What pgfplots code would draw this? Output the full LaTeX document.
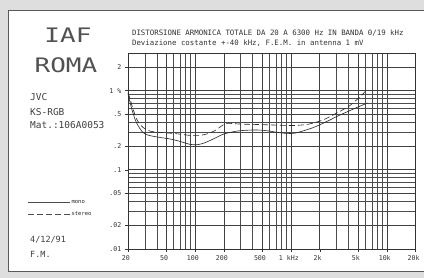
\documentclass[border=0pt]{standalone}
\usepackage{fontspec}
\setmainfont{DejaVu Sans Mono}
\usepackage{graphicx}
\usepackage{pgfplots}
\pgfplotsset{compat=1.18}
\begin{document}
\begin{tikzpicture}
\fill[black!13] (0pt,0pt) rectangle (424pt,278pt);
\fill[white] (8pt,6pt) rectangle (424pt,268pt);
\draw[black!65, line width=0.8pt] (424pt,268pt) -- (8pt,268pt) -- (8pt,6pt) -- (424pt,6pt);
\begin{axis}[
  at={(128pt,29pt)}, anchor=south west, scale only axis,
  width=288pt, height=196pt,
  xmode=log, ymode=log,
  xmin=20, xmax=20000, ymin=0.01, ymax=3,
  axis line style={black!80, line width=0.5pt},
  xtick={20,50,100,200,500,1000,2000,5000,10000,20000},
  xticklabels={20,50,100,200,500,1 kHz,2k,5k,10k,20k},
  minor xtick={30,40,60,70,80,90,300,400,600,700,800,900,3000,4000,6000,7000,8000,9000},
  ytick={0.01,0.02,0.05,0.1,0.2,0.5,1,2},
  yticklabels={.01,.02,.05,.1,.2,.5,1 \%,2},
  minor ytick={0.03,0.04,0.06,0.07,0.08,0.09,0.3,0.4,0.6,0.7,0.8,0.9},
  grid=both,
  major grid style={black!75, line width=0.45pt},
  minor grid style={black!70, line width=0.4pt},
  tick pos=left, tick align=outside,
  major tick length=3pt, minor tick length=0pt,
  tick style={black!80, line width=0.4pt},
  ticklabel style={font=\fontsize{6.6}{7}\selectfont, text=black!80},
  xticklabel style={xshift=-2pt},
]
\addplot[black!85, line width=0.6pt, smooth, tension=0.5] coordinates {
(20,0.93) (21,0.72) (22.5,0.53) (24,0.42) (25.6,0.36) (28,0.305) (31,0.28)
(35,0.268) (43,0.256) (55,0.245) (70,0.228) (88,0.21) (105,0.207) (125,0.218)
(150,0.24) (175,0.263) (200,0.283) (250,0.302) (300,0.312) (400,0.318)
(500,0.316) (600,0.308) (750,0.295) (900,0.288) (1100,0.29) (1400,0.315)
(1700,0.34) (2000,0.37) (2500,0.42) (3000,0.47) (4000,0.55) (5000,0.62) (6300,0.70)
};
\addplot[black!85, line width=0.6pt, dash pattern=on 6pt off 3pt, smooth, tension=0.5] coordinates {
(20,0.95) (21,0.8) (22.5,0.6) (24.6,0.44) (27,0.37) (29,0.34) (34,0.308)
(43,0.297) (55,0.29) (70,0.282) (88,0.272) (110,0.27) (135,0.285) (160,0.31)
(185,0.35) (210,0.385) (240,0.385) (300,0.378) (500,0.372) (800,0.365)
(1100,0.363) (1500,0.375) (1850,0.40) (2300,0.44) (3000,0.52) (4000,0.63)
(4450,0.70) (5000,0.79) (5600,0.9) (6300,1.05)
};
\end{axis}
% header texts
\node[text=black!68, inner sep=0pt] at (68pt,242.5pt) {\fontsize{20}{20}\selectfont\scalebox{1.3}[1]{IAF}};
\node[text=black!68, inner sep=0pt] at (66pt,213pt) {\fontsize{20}{20}\selectfont\scalebox{1.3}[1]{ROMA}};
\node[text=black!75, anchor=base west, inner sep=0pt] at (30pt,177.8pt) {\fontsize{9.5}{10}\selectfont JVC};
\node[text=black!75, anchor=base west, inner sep=0pt] at (30pt,162.8pt) {\fontsize{9.5}{10}\selectfont KS-RGB};
\node[text=black!75, anchor=base west, inner sep=0pt] at (30pt,149pt) {\fontsize{9.5}{10}\selectfont Mat.:106A0053};
\draw[black!70, line width=0.5pt] (28pt,76pt) -- (70pt,76pt);
\node[text=black!85, anchor=west, inner sep=1pt] at (70.5pt,76pt) {\fontsize{5.5}{6}\selectfont mono};
\draw[black!70, line width=0.5pt, dash pattern=on 6pt off 3pt] (28pt,64pt) -- (70pt,64pt);
\node[text=black!85, anchor=west, inner sep=1pt] at (70.5pt,64pt) {\fontsize{5.5}{6}\selectfont stereo};
\node[text=black!75, anchor=base west, inner sep=0pt] at (30pt,35.7pt) {\fontsize{8.5}{9}\selectfont 4/12/91};
\node[text=black!75, anchor=base west, inner sep=0pt] at (30pt,20.7pt) {\fontsize{8.5}{9}\selectfont F.M.};
\node[text=black!80, anchor=base west, inner sep=0pt] at (132pt,242pt) {\fontsize{7.4}{8}\selectfont DISTORSIONE ARMONICA TOTALE DA 20 A 6300 Hz IN BANDA 0/19 kHz};
\node[text=black!80, anchor=base west, inner sep=0pt] at (132pt,232pt) {\fontsize{7.4}{8}\selectfont Deviazione costante +-40 kHz, F.E.M. in antenna 1 mV};
\end{tikzpicture}
\end{document}
